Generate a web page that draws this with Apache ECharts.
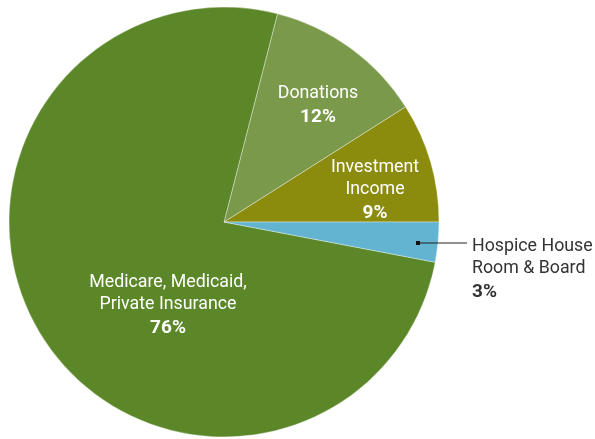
<!DOCTYPE html>
<html>
<head>
<meta charset="utf-8">
<script src="https://cdn.jsdelivr.net/npm/echarts@6/dist/echarts.min.js"></script>
<style>
html,body{margin:0;padding:0;background:#fff}
#main{width:595px;height:439px}
</style>
</head>
<body>
<div id="main"></div>
<script>
// 数据
var categories = ['Investment\nIncome', 'Donations', 'Medicare, Medicaid,\nPrivate Insurance', 'Hospice House\nRoom & Board']
var values = [9, 12, 76, 3]
var colors = ['#8b8b0e', '#7a994a', '#5b8728', '#63b4d0']
// label anchor (center of text block)
var labelPos = [[375, 191], [318, 106], [168, 306], [472, 270]]

var chart = echarts.init(document.getElementById('main'))
var data = []
for (var i = 0; i < values.length; i++) {
	data.push({
		name: categories[i],
		value: values[i],
		itemStyle: { color: colors[i] },
		label: i == 3 ? {
			color: '#333',
			align: 'left',
			rich: { p: { fontWeight: 'bold', fontSize: 19, color: '#333', lineHeight: 24, fontFamily: 'Roboto' } }
		} : {}
	})
}
chart.setOption({
	animation: false,
	series: [{
		type: 'pie',
		center: [224, 222],
		radius: 215,
		startAngle: 0,
		clockwise: false,
		data: data,
		itemStyle: { borderColor: 'rgba(255,255,255,0.6)', borderWidth: 0.6 },
		label: {
			show: true,
			position: 'inside',
			color: '#fff',
			fontSize: 17.8,
			lineHeight: 22,
			fontFamily: 'Roboto',
			align: 'center',
			formatter: function (p) {
				return p.name + '\n{p|' + p.value + '%}'
			},
			rich: { p: { fontWeight: 'bold', fontSize: 19, color: '#fff', lineHeight: 24, fontFamily: 'Roboto' } }
		},
		labelLine: { show: false },
		labelLayout: function (params) {
			var pos = labelPos[params.dataIndex]
			return {
				x: pos[0],
				y: pos[1],
				align: params.dataIndex == 3 ? 'left' : 'center',
				verticalAlign: 'middle'
			}
		}
	}],
	graphic: [
		{ type: 'line', z: 100, shape: { x1: 418, y1: 243, x2: 467, y2: 243 }, style: { stroke: '#222', lineWidth: 1.2 } },
		{ type: 'rect', z: 100, shape: { x: 416, y: 241, width: 4, height: 4 }, style: { fill: '#111' } }
	]
})
</script>
</body>
</html>
